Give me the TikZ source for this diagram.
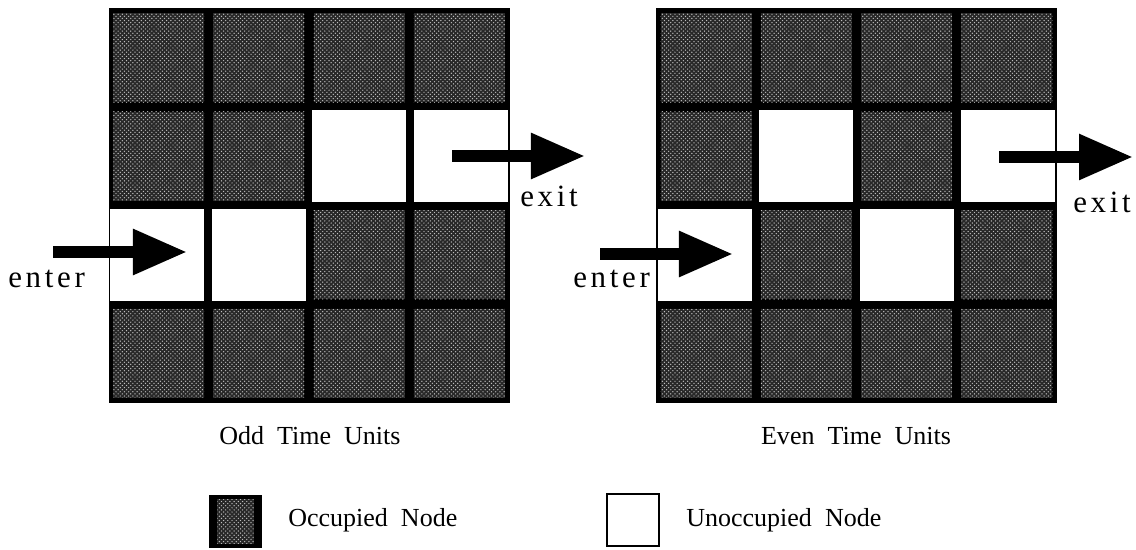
\documentclass[tikz,border=0pt]{standalone}
\usepackage{fontspec}
\setmainfont{Liberation Serif}
\newfontfamily\spaced{Liberation Serif}[LetterSpace=12]
\usetikzlibrary{arrows.meta,patterns}
\definecolor{occgray}{RGB}{40,40,40}
\definecolor{dotgray}{RGB}{190,190,190}

\tikzset{
  occ/.style={preaction={fill=occgray}, pattern=crosshatch dots, pattern color=dotgray,
    inner sep=0pt, minimum width=2.275cm, minimum height=2.225cm},
  free/.style={fill=white, inner sep=0pt, minimum width=2.35cm, minimum height=2.3cm},
  flow/.style={line width=0.28cm, -{Triangle[length=1.35cm,width=1.08cm]}},
  lbl/.style={font=\fontsize{18.5}{22}\selectfont, inner sep=0pt},
  io/.style={font=\fontsize{22}{26}\selectfont\spaced, inner sep=0pt, anchor=base west}
}

\begin{document}
\begin{tikzpicture}[x=0.025cm, y=-0.025cm]
  \useasboundingbox (0,0) rectangle (1136,550);
  % --- Odd time units ---
  \begin{scope}[shift={(108.5,8.5)}]
    \fill[black] (0,0) rectangle (401,394);
    \foreach \c/\r in {1/1,2/1,3/1,4/1,1/2,2/2,3/3,4/3,1/4,2/4,3/4,4/4}
      \node[occ] (odd-\c-\r) at (\c*100.25-50.125, \r*98.5-49.25) {};
    \foreach \c/\r/\dx in {1/3/-1.5,2/3/0,3/2/0,4/2/1.5}
      \node[free] (odd-\c-\r) at (\c*100.25-50.125+\dx, \r*98.5-49.25) {};
  \end{scope}
  \coordinate (odd-in) at (53,252);
  \coordinate (odd-in-tip) at (187,252);
  \coordinate (odd-out) at (452,156);
  \coordinate (odd-out-tip) at (585,156);
  \draw[flow] (odd-in) -- (odd-in-tip);
  \draw[flow] (odd-out) -- (odd-out-tip);
  \node[io] (odd-enter) at (8,287) {enter};
  \node[io] (odd-exit) at (520,207) {exit};
  \node[lbl] (odd-title) at (310,436) {Odd\ \ Time\ \ Units};

  % --- Even time units ---
  \begin{scope}[shift={(656,8.5)}]
    \fill[black] (0,0) rectangle (401,394);
    \foreach \c/\r in {1/1,2/1,3/1,4/1,1/2,3/2,2/3,4/3,1/4,2/4,3/4,4/4}
      \node[occ] (even-\c-\r) at (\c*100.25-50.125, \r*98.5-49.25) {};
    \foreach \c/\r/\dx in {1/3/-1.5,2/2/0,3/3/0,4/2/1.5}
      \node[free] (even-\c-\r) at (\c*100.25-50.125+\dx, \r*98.5-49.25) {};
  \end{scope}
  \coordinate (even-in) at (600,254);
  \coordinate (even-in-tip) at (733,254);
  \coordinate (even-out) at (999,157);
  \coordinate (even-out-tip) at (1133,157);
  \draw[flow] (even-in) -- (even-in-tip);
  \draw[flow] (even-out) -- (even-out-tip);
  \node[io] (even-enter) at (573,287) {enter};
  \node[io] (even-exit) at (1073,213) {exit};
  \node[lbl] (even-title) at (856,436) {Even\ \ Time\ \ Units};

  % --- Key ---
  \node[fill=black, inner sep=0pt, minimum size=1.33cm] (key-occ) at (235.5,521.5) {};
  \node[occ, minimum width=0.9cm, minimum height=1.1cm] at (key-occ) {};
  \node[draw=black, line width=0.07cm, fill=white, inner sep=0pt, minimum size=1.3cm] (key-free) at (633,520) {};
  \node[lbl, anchor=west] (key-occ-text) at (288,520) {Occupied\ \ Node};
  \node[lbl, anchor=west] (key-free-text) at (686,520) {Unoccupied\ \ Node};
\end{tikzpicture}
\end{document}
